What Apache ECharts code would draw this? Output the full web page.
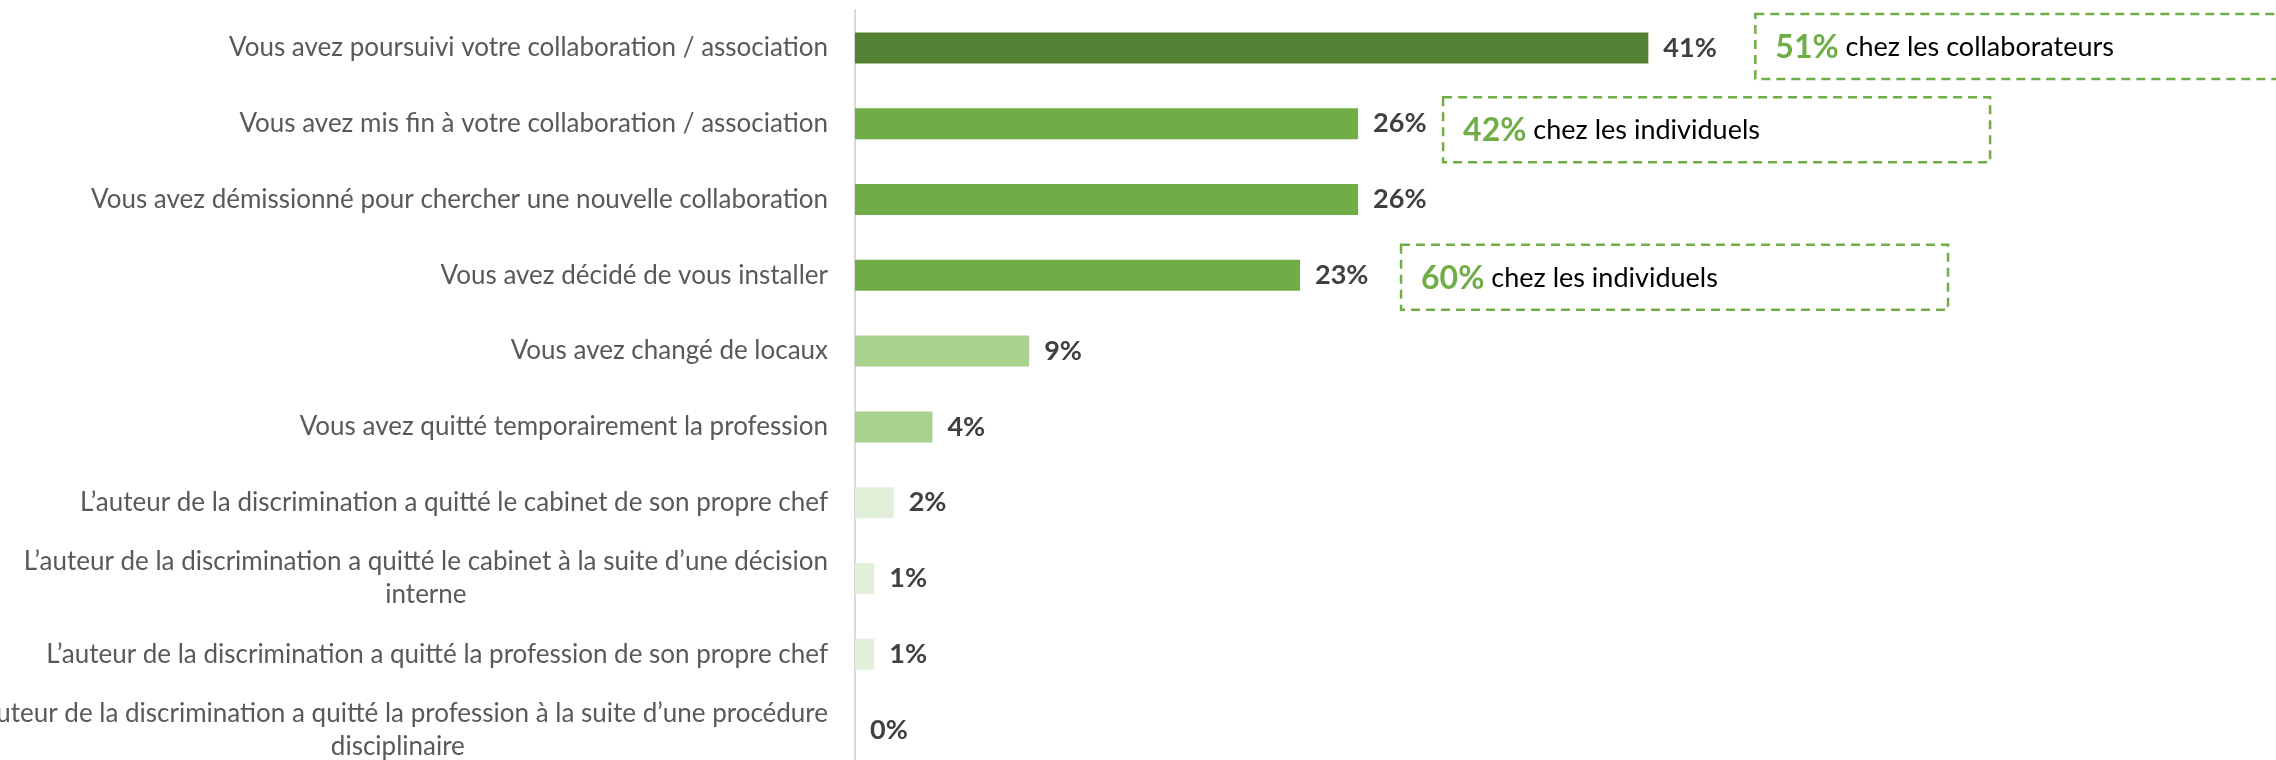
<!DOCTYPE html>
<html>
<head>
<meta charset="utf-8">
<script src="https://cdn.jsdelivr.net/npm/echarts@6/dist/echarts.min.js"></script>
<style>
html,body{margin:0;padding:0;background:#fff;}
#main{width:2276px;height:760px;}
</style>
</head>
<body>
<div id="main"></div>
<script>
const categories = [
  "Vous avez poursuivi votre collaboration / association",
  "Vous avez mis fin à votre collaboration / association",
  "Vous avez démissionné pour chercher une nouvelle collaboration",
  "Vous avez décidé de vous installer",
  "Vous avez changé de locaux",
  "Vous avez quitté temporairement la profession",
  "L’auteur de la discrimination a quitté le cabinet de son propre chef",
  "L’auteur de la discrimination a quitté le cabinet à la suite d’une décision\ninterne",
  "L’auteur de la discrimination a quitté la profession de son propre chef",
  "L’auteur de la discrimination a quitté la profession à la suite d’une procédure\ndisciplinaire"
];
const values = [41, 26, 26, 23, 9, 4, 2, 1, 1, 0];

const annotCategoryIndex = [0, 1, 3];
const annotPct = ["51%", "42%", "60%"];
const annotText = ["chez les collaborateurs", "chez les individuels", "chez les individuels"];

const FONT = "Lato, sans-serif";

function barColor(v) {
  if (v >= 30) return '#548235';
  if (v >= 20) return '#70AD47';
  if (v >= 4) return '#A9D18E';
  return '#E2F0D9';
}

const chart = echarts.init(document.getElementById('main'), null, {renderer: 'canvas'});

const option = {
  animation: false,
  backgroundColor: '#ffffff',
  grid: { left: 855, top: 10, height: 758, width: 967.5, containLabel: false, outerBoundsMode: 'none' },
  xAxis: { type: 'value', min: 0, max: 50, show: false },
  yAxis: {
    type: 'category',
    inverse: true,
    data: categories,
    axisLine: { show: true, lineStyle: { color: '#d9d9d9', width: 2 } },
    axisTick: { show: false },
    axisLabel: {
      margin: 27,
      fontFamily: FONT,
      fontSize: 26,
      color: '#595959',
      formatter: function (val) {
        const parts = val.split('\n');
        if (parts.length === 1) return '{a|' + parts[0] + '}';
        return '{a|' + parts[0] + '}\n{c|' + parts[1] + '}';
      },
      rich: {
        a: { fontFamily: FONT, fontSize: 26, color: '#595959', align: 'right', lineHeight: 33 },
        c: { fontFamily: FONT, fontSize: 26, color: '#595959', align: 'center', lineHeight: 33 }
      }
    }
  },
  series: [{
    type: 'bar',
    data: values,
    barWidth: 31,
    itemStyle: { color: function (p) { return barColor(p.value); } },
    label: {
      show: true,
      position: 'right',
      distance: 15,
      formatter: '{c}%',
      fontFamily: FONT,
      fontWeight: 'bold',
      fontSize: 27,
      color: '#404040'
    }
  }]
};
chart.setOption(option);

const annotLayout = [
  { dx: 107, dy: -1.5, w: 545 },
  { dx: 85, dy: 6, w: 547 },
  { dx: 101, dy: 2, w: 547 }
];
const graphics = [];
annotCategoryIndex.forEach(function (ci, i) {
  const barEnd = chart.convertToPixel({ xAxisIndex: 0 }, values[ci]);
  const cy = chart.convertToPixel({ yAxisIndex: 0 }, ci);
  const L = annotLayout[i];
  const x0 = barEnd + L.dx;
  const yc = cy + L.dy;
  const h = 65;
  graphics.push({
    type: 'rect',
    shape: { x: x0, y: yc - h / 2, width: L.w, height: h },
    style: { fill: 'none', stroke: '#70AD47', lineWidth: 2.5, lineDash: [9, 6] },
    silent: true
  });
  graphics.push({
    type: 'text',
    x: x0 + 20,
    y: yc + 1,
    style: {
      text: '{p|' + annotPct[i] + '}{t| ' + annotText[i] + '}',
      verticalAlign: 'middle',
      align: 'left',
      rich: {
        p: { fontFamily: FONT, fontSize: 32, fontWeight: 'bold', fill: '#70AD47' },
        t: { fontFamily: FONT, fontSize: 27, fill: '#000000' }
      }
    },
    silent: true
  });
});
chart.setOption({ graphic: graphics });
</script>
</body>
</html>
